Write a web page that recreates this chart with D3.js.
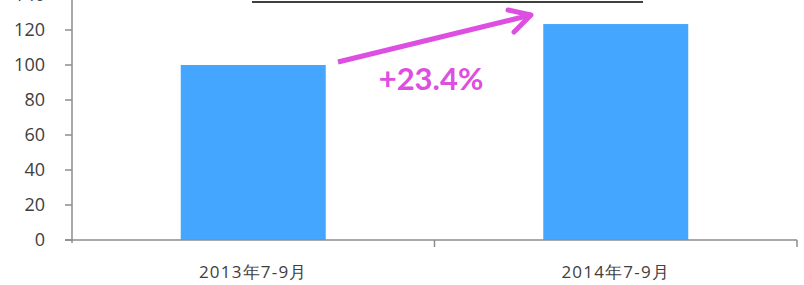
<!DOCTYPE html>
<html><head><meta charset="utf-8">
<script src="https://cdn.jsdelivr.net/npm/d3@7"></script>
<style>body{margin:0;background:#fff}svg{display:block}</style>
</head><body>
<svg id="c" width="804" height="285"></svg>
<script>
const categories = ["2013年7-9月", "2014年7-9月"];
const values = [100, 123.4];
const yTicks = [0, 20, 40, 60, 80, 100, 120, 140];
const changeLabel = "+23.4%";

const svg = d3.select("#c");
const xb = d3.scaleBand().domain(categories).range([72, 797]);
const y = d3.scaleLinear().domain([0, 140]).range([240, -5]);
const font = "'Open Sans', 'DejaVu Sans', sans-serif";
const axisCol = "#8c8c8c";

// bars
svg.selectAll("rect.bar").data(values).join("rect")
  .attr("x", (d,i) => xb(categories[i]) + xb.bandwidth()/2 - 72.5)
  .attr("width", 145)
  .attr("y", d => y(d))
  .attr("height", d => y(0) - y(d))
  .attr("fill", "#45A6FF");

// y axis
svg.append("line").attr("x1", 72).attr("x2", 72).attr("y1", y(140)).attr("y2", y(0)+3)
  .attr("stroke", axisCol).attr("stroke-width", 1.5);
svg.selectAll("line.yt").data(yTicks).join("line")
  .attr("x1", 65).attr("x2", 72).attr("y1", d => y(d)).attr("y2", d => y(d))
  .attr("stroke", axisCol).attr("stroke-width", 1.5);
svg.selectAll("text.yl").data(yTicks).join("text")
  .attr("x", 45).attr("y", d => y(d)).attr("dy", "0.36em")
  .attr("text-anchor", "end").attr("font-family", font).attr("font-size", 18)
  .attr("fill", "#404040").text(d => d);

// x axis
svg.append("line").attr("x1", 65).attr("x2", 797).attr("y1", y(0)).attr("y2", y(0))
  .attr("stroke", axisCol).attr("stroke-width", 1.5);
const xTickPos = [xb(categories[1]), 797];
svg.selectAll("line.xt").data(xTickPos).join("line")
  .attr("x1", d => d).attr("x2", d => d).attr("y1", y(0)).attr("y2", y(0)+7)
  .attr("stroke", axisCol).attr("stroke-width", 1.5);
svg.selectAll("text.xl").data(categories).join("text")
  .attr("x", d => xb(d) + xb.bandwidth()/2).attr("y", 278)
  .attr("text-anchor", "middle").attr("font-family", font).attr("font-size", 17)
  .attr("letter-spacing", "1.2px")
  .attr("fill", "#404040").text(d => d);

// title underline (title itself is cut off above the frame)
svg.append("line").attr("x1", 252).attr("x2", 643).attr("y1", 2).attr("y2", 2)
  .attr("stroke", "#404040").attr("stroke-width", 2);

// arrow
const mag = "#DD4FE0";
const x0 = 338, y0 = y(values[0]) - 3, x1 = 531, y1 = 15;
svg.append("line").attr("x1", x0).attr("y1", y0).attr("x2", x1).attr("y2", y1)
  .attr("stroke", mag).attr("stroke-width", 5).attr("stroke-linecap", "butt");
svg.append("path").attr("d", `M508,10 L531,15 L514,32`)
  .attr("fill", "none").attr("stroke", mag).attr("stroke-width", 5)
  .attr("stroke-linecap", "round").attr("stroke-linejoin", "round");
svg.append("text").attr("x", 431).attr("y", 90).attr("text-anchor", "middle")
  .attr("font-family", "Lato, 'DejaVu Sans', sans-serif").attr("font-weight", "bold").attr("font-size", 31)
  .attr("fill", mag).text(changeLabel);
</script>
</body></html>
